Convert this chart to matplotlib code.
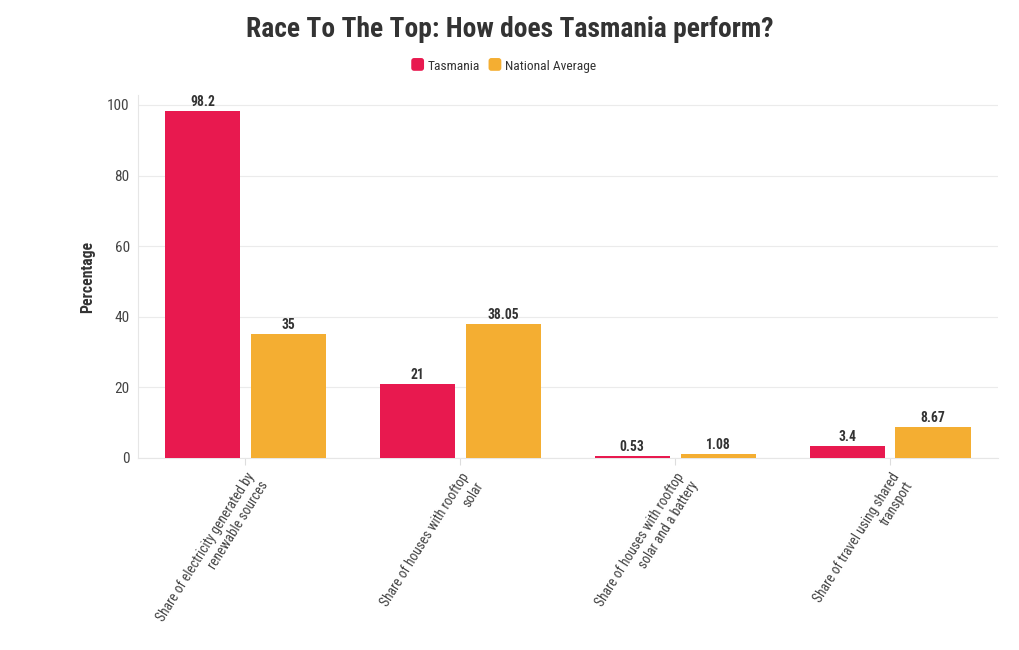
import matplotlib
matplotlib.use("Agg")
import matplotlib.pyplot as plt
import numpy as np
from matplotlib.patches import FancyBboxPatch, Patch
from matplotlib.legend_handler import HandlerPatch

categories = [
    "Share of electricity generated by\nrenewable sources",
    "Share of houses with rooftop\nsolar",
    "Share of houses with rooftop\nsolar and a battery",
    "Share of travel using shared\ntransport",
]
tasmania = [98.2, 21, 0.53, 3.4]
national = [35, 38.05, 1.08, 8.67]
tas_labels = ["98.2", "21", "0.53", "3.4"]
nat_labels = ["35", "38.05", "1.08", "8.67"]

RED = "#E8194F"
GOLD = "#F4AE32"
TXT = "#333333"

plt.rcParams["font.family"] = ["Roboto Condensed", "Roboto", "DejaVu Sans"]


class RoundHandler(HandlerPatch):
    def create_artists(self, legend, orig_handle, xdescent, ydescent,
                       width, height, fontsize, trans):
        s = min(width, height) * 1.1
        p = FancyBboxPatch((xdescent + (width - s) / 2, ydescent + (height - s) / 2 - 1),
                           s, s, boxstyle="round,pad=0,rounding_size=2",
                           facecolor=orig_handle.get_facecolor(), edgecolor="none",
                           transform=trans)
        return [p]


def main():
    fig = plt.figure(figsize=(10.2, 6.5), dpi=100)
    ax = fig.add_axes([0.1353, 0.2954, 0.978 - 0.1353, 0.8538 - 0.2954])

    x = np.arange(len(categories))
    w = 0.35
    b1 = ax.bar(x - 0.2, tasmania, w, color=RED, zorder=3)
    b2 = ax.bar(x + 0.2, national, w, color=GOLD, zorder=3)

    # value labels above each bar
    for bars, labs in ((b1, tas_labels), (b2, nat_labels)):
        for r, t in zip(bars, labs):
            ax.annotate(t, (r.get_x() + r.get_width() / 2, r.get_height()),
                        xytext=(0, 1.5), textcoords="offset points",
                        ha="center", va="bottom", fontsize=9.8,
                        fontweight="bold", color=TXT)

    ax.set_xlim(-0.5, 3.5)
    ax.set_ylim(0, 102.8)
    ax.set_yticks([0, 20, 40, 60, 80, 100])
    ax.grid(axis="y", color="#ebebeb", linewidth=0.8, zorder=0)
    ax.set_axisbelow(True)

    for s in ("top", "right"):
        ax.spines[s].set_visible(False)
    ax.spines["left"].set_color("#e6e6e6")
    ax.spines["bottom"].set_color("#e6e6e6")

    ax.tick_params(axis="y", length=0, pad=6, labelsize=11, labelcolor="#444444")
    ax.tick_params(axis="x", length=5, color="#dddddd", pad=4,
                   labelsize=9.8, labelcolor="#444444")
    ax.set_xticks(x)
    ax.set_xticklabels(categories, rotation=58, ha="right", va="top",
                       rotation_mode="anchor", multialignment="right")

    ax.set_ylabel("Percentage", fontsize=11.3, fontweight="bold", color=TXT, labelpad=9)

    fig.suptitle("Race To The Top: How does Tasmania perform?", x=0.5, y=0.975,
                 fontsize=19.8, fontweight="bold", color=TXT)

    handles = [Patch(facecolor=RED, label="Tasmania"),
               Patch(facecolor=GOLD, label="National Average")]
    fig.legend(handles=handles, loc="center", bbox_to_anchor=(0.494, 0.898),
               ncol=2, frameon=False, fontsize=9.7, handlelength=0.95,
               handleheight=0.95, handletextpad=0.3, columnspacing=0.6,
               labelcolor=TXT, handler_map={Patch: RoundHandler()})

    fig.savefig("out.png", dpi=100)
    plt.close(fig)


if __name__ == "__main__":
    main()
